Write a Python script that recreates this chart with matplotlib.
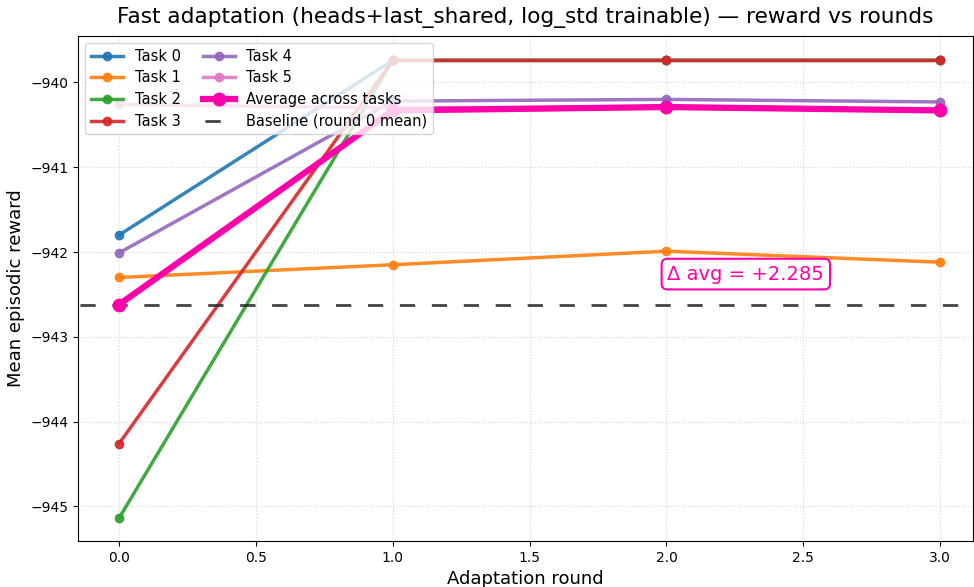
import numpy as np
import matplotlib.pyplot as plt

rounds = [0, 1, 2, 3]
task_names = ["Task 0", "Task 1", "Task 2", "Task 3", "Task 4", "Task 5"]
task0 = [-941.80, -939.74, -939.74, -939.74]
task1 = [-942.30, -942.15, -941.99, -942.12]
task2 = [-945.14, -939.74, -939.74, -939.74]
task3 = [-944.26, -939.74, -939.74, -939.74]
task4 = [-942.01, -940.22, -940.20, -940.23]
task5 = [-940.26, -940.30, -940.29, -940.32]
avg = [-942.62, -940.33, -940.29, -940.33]
baseline = -942.62
delta_avg = 2.285

tasks = [task0, task1, task2, task3, task4, task5]
colors = ["tab:blue", "tab:orange", "tab:green", "tab:red", "tab:purple", "tab:pink"]

fig = plt.figure(figsize=(9.74, 5.87), dpi=100)
ax = fig.add_axes([0.080, 0.078, 0.919, 0.861])

for name, vals, c in zip(task_names, tasks, colors):
    ax.plot(rounds, vals, marker="o", ms=6, lw=2.5, color=c, alpha=0.9, label=name)

ax.plot(rounds, avg, marker="o", ms=9, lw=4.5, color="#FF00AA", label="Average across tasks", zorder=5)
ax.axhline(baseline, ls=(10.8, (5.5, 6)), lw=2, color="#222222", alpha=0.85, label="Baseline (round 0 mean)")

ax.text(2.29, -942.26, "\u0394 avg = +{:.3f}".format(delta_avg), color="#FF00AA", fontsize=14,
        ha="center", va="center",
        bbox=dict(boxstyle="round,pad=0.3", fc="white", ec="#FF00AA", lw=1.5))

ax.set_xlim(-0.15, 3.12)
ax.set_ylim(-945.41, -939.45)
ax.set_xticks([0.0, 0.5, 1.0, 1.5, 2.0, 2.5, 3.0])
ax.grid(True, ls=":", lw=0.8, alpha=0.5)
ax.set_xlabel("Adaptation round", fontsize=13)
ax.set_ylabel("Mean episodic reward", fontsize=13)
ax.set_title("Fast adaptation (heads+last_shared, log_std trainable) \u2014 reward vs rounds", fontsize=15.6, pad=9)
ax.legend(loc="upper left", ncol=2, fontsize=10.5, handlelength=2.2, columnspacing=1.5,
          borderpad=0.4, labelspacing=0.45)

fig.savefig("out.png", dpi=100)
